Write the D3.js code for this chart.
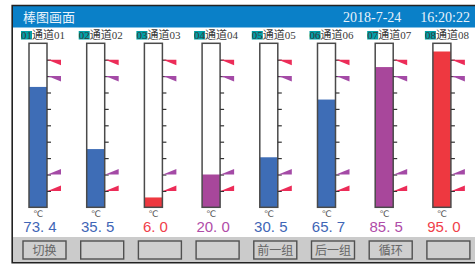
<!DOCTYPE html>
<html>
<head>
<meta charset="utf-8">
<script src="https://cdn.jsdelivr.net/npm/d3@7"></script>
<style>
  body { margin: 0; background: #fff; }
  svg { display: block; }
</style>
</head>
<body>
<div class="screen"></div>
<script>
// channel data
const channels = ["01", "02", "03", "04", "05", "06", "07", "08"];
const channelNames = ["通道01", "通道02", "通道03", "通道04", "通道05", "通道06", "通道07", "通道08"];
const values = [73.4, 35.5, 6.0, 20.0, 30.5, 65.7, 85.5, 95.0];
const barColors = ["blue", "blue", "red", "purple", "blue", "blue", "purple", "red"];
const tickValues = [10, 20, 30, 40, 50, 60, 70, 80, 90];
// alarm marks: level, colour, direction
const alarmLevels = [90, 80, 20, 10];
const alarmColors = ["red", "purple", "purple", "red"];
const alarmDirs = ["down", "down", "up", "up"];
const buttons = ["切换", "", "", "", "前一组", "后一组", "循环", ""];
const title = "棒图画面";
const dateText = "2018-7-24";
const timeText = "16:20:22";

const palette = {
  blue: "#3e6db6",
  red: "#ee3840",
  purple: "#a8479b"
};
const textPalette = {
  blue: "#3f66b6",
  red: "#f0404a",
  purple: "#b04ca8"
};
const flagPalette = {
  red: "#ec2c58",
  purple: "#a44aa6"
};

const w = 475;
const h = 266;
const colStep = 57.7;

const svg = d3.select(".screen").append("svg")
  .attr("width", w)
  .attr("height", h);

// frame / header / footer
svg.append("rect").attr("x", 12).attr("y", 5).attr("width", w - 12).attr("height", 258)
  .attr("fill", "#fff");
svg.append("rect").attr("x", 12).attr("y", 6).attr("width", w - 12).attr("height", 21.5)
  .attr("fill", "#0a80c8");
svg.append("rect").attr("x", 12).attr("y", 237).attr("width", w - 12).attr("height", 26)
  .attr("fill", "#cbcbcb");
svg.append("path")
  .attr("d", "M" + w + ",5.5 H12.2 V262.8 H" + w)
  .attr("fill", "none")
  .attr("stroke", "#222")
  .attr("stroke-width", 1.6);

svg.append("text")
  .attr("x", 23).attr("y", 21.5)
  .style("font-family", "'Noto Sans CJK SC'")
  .style("font-size", "13px")
  .attr("fill", "#e8f2fa")
  .text(title);
svg.append("text")
  .attr("x", 343).attr("y", 21.5)
  .style("font-family", "'Liberation Serif'")
  .style("font-size", "14px")
  .attr("fill", "#e8f2fa")
  .text(dateText);
svg.append("text")
  .attr("x", 470).attr("y", 21.5)
  .attr("text-anchor", "end")
  .style("font-family", "'Liberation Serif'")
  .style("font-size", "14px")
  .attr("fill", "#e8f2fa")
  .text(timeText);

// scales
const x = d3.scaleBand()
  .domain(channels)
  .range([29, 29 + colStep * channels.length])
  .paddingInner(0)
  .paddingOuter(0);
const barW = 18;
const y = d3.scaleLinear()
  .domain([0, 100])
  .range([207.3, 43.3]);

const cols = svg.selectAll(".col")
  .data(channels)
  .enter()
  .append("g")
  .classed("col", true)
  .attr("transform", function(d){ return "translate(" + x(d) + ",0)"; });

// channel label
const lab = cols.append("g").attr("transform", "translate(-8,0)");
lab.append("rect")
  .attr("x", 0).attr("y", 31)
  .attr("width", 11).attr("height", 8.5)
  .attr("fill", "#00a0a8");
lab.append("text")
  .attr("x", 0).attr("y", 39)
  .style("font-family", "'Liberation Serif', 'Noto Sans CJK SC'")
  .style("font-size", "11px")
  .attr("fill", "#3a3a3a")
  .text(function(d, i){ return d + channelNames[i]; });

// bar fill
cols.append("rect")
  .attr("x", 0)
  .attr("width", barW)
  .attr("y", function(d, i){ return y(values[i]); })
  .attr("height", function(d, i){ return y(0) - y(values[i]); })
  .attr("fill", function(d, i){ return palette[barColors[i]]; });

// bar outline
cols.append("rect")
  .attr("x", 0).attr("y", y(100))
  .attr("width", barW).attr("height", y(0) - y(100))
  .attr("fill", "none")
  .attr("stroke", "#4a4a4a")
  .attr("stroke-width", 1.5);

// ticks on right side
const axis = d3.axisRight(y)
  .tickValues(tickValues)
  .tickSize(4)
  .tickFormat("");
cols.append("g")
  .attr("transform", "translate(" + barW + ",0)")
  .call(axis)
  .call(function(g){ g.select(".domain").remove(); })
  .selectAll("line")
  .attr("stroke", "#333")
  .attr("stroke-width", 1.2);

// alarm flags
cols.each(function(){
  const g = d3.select(this);
  alarmLevels.forEach(function(lv, k){
    const yy = y(lv);
    const x0 = barW + 0.5;
    const x1 = barW + 14;
    const dy = alarmDirs[k] === "down" ? 5.5 : -5.5;
    g.append("path")
      .attr("d", "M" + x0 + "," + yy + " L" + x1 + "," + yy + " L" + x1 + "," + (yy + dy) + " Z")
      .attr("fill", flagPalette[alarmColors[k]]);
  });
});

// unit
cols.append("text")
  .attr("x", barW / 2)
  .attr("y", 217)
  .attr("text-anchor", "middle")
  .style("font-family", "'DejaVu Sans'")
  .style("font-size", "9px")
  .attr("fill", "#555")
  .text("℃");

// values
cols.append("text")
  .attr("x", barW / 2 + 2)
  .attr("y", 231.7)
  .attr("text-anchor", "middle")
  .style("font-family", "'Liberation Sans'")
  .style("font-size", "15px")
  .attr("fill", function(d, i){ return textPalette[barColors[i]]; })
  .text(function(d, i){ return values[i].toFixed(1).replace(".", ". "); });

// buttons
const btn = svg.selectAll(".btn")
  .data(buttons)
  .enter()
  .append("g")
  .classed("btn", true)
  .attr("transform", function(d, i){ return "translate(" + (23 + colStep * i) + ",241)"; });
btn.append("rect")
  .attr("width", 43).attr("height", 18)
  .attr("fill", "#cfcfcf")
  .attr("stroke", "#505050")
  .attr("stroke-width", 1.4);
btn.append("text")
  .attr("x", 21.5).attr("y", 13.5)
  .attr("text-anchor", "middle")
  .style("font-family", "'Noto Sans CJK SC'")
  .style("font-size", "12px")
  .attr("fill", "#666")
  .text(function(d){ return d; });
</script>
</body>
</html>
